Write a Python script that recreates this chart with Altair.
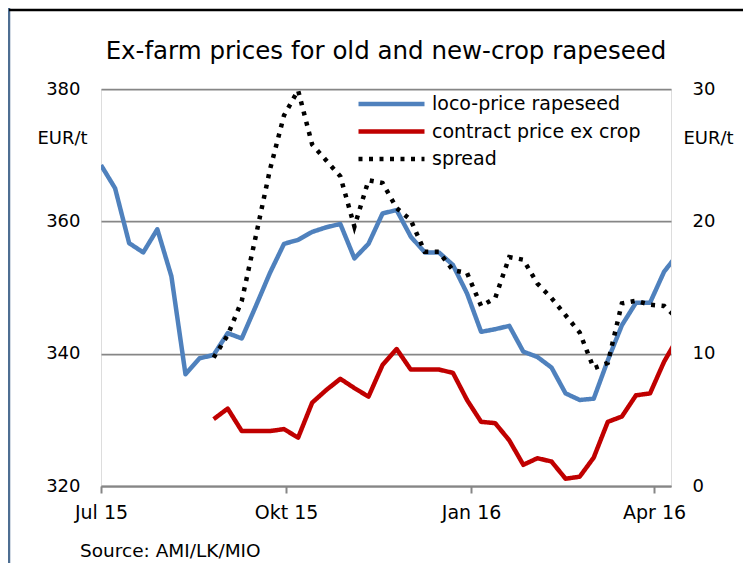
import json
import altair as alt
import pandas as pd

# ---------------- data ----------------
week_start = "2015-07-01"
n_weeks = 42
loco = [368.5, 365.0, 356.7, 355.3, 358.8, 351.7, 336.9, 339.3, 339.8, 343.1,
        342.3, 347.2, 352.2, 356.6, 357.2, 358.4, 359.1, 359.6, 354.4, 356.6,
        361.2, 361.7, 357.7, 355.3, 355.3, 353.4, 349.1, 343.3, 343.7, 344.2,
        340.3, 339.5, 337.9, 334.0, 333.0, 333.2, 339.0, 344.3, 347.7, 347.7,
        352.4, 355.1]
contract = [None] * 8 + [
        330.1, 331.7, 328.3, 328.3, 328.3, 328.6, 327.3, 332.6, 334.5, 336.2,
        334.8, 333.5, 338.3, 340.7, 337.6, 337.6, 337.6, 337.1, 333.0, 329.7,
        329.5, 326.9, 323.2, 324.2, 323.7, 321.1, 321.4, 324.3, 329.7, 330.5,
        333.7, 334.0, 338.8, 342.5]
spread = [None] * 8 + [
        9.7, 11.4, 14.0, 18.9, 23.9, 28.0, 29.9, 25.8, 24.6, 23.4,
        19.6, 23.1, 22.9, 21.0, 20.1, 17.7, 17.7, 16.3, 16.1, 13.6,
        14.2, 17.3, 17.1, 15.3, 14.2, 12.9, 11.6, 8.9, 9.3, 13.8,
        14.0, 13.7, 13.6, 12.6]

series_names = ["loco-price rapeseed", "contract price ex crop", "spread"]
series_colors = ["#4F81BD", "#C00000", "#000000"]
series_dash = [[1, 0], [1, 0], [4, 6.5]]

left_ticks = [320, 340, 360, 380]
right_ticks = [0, 10, 20, 30]
x_tick_keys = ["2015-07", "2015-10", "2016-01", "2016-04"]
x_tick_labels = ["Jul 15", "Okt 15", "Jan 16", "Apr 16"]

title_text = "Ex-farm prices for old and new-crop rapeseed"
unit_text = "EUR/t"
source_text = "Source: AMI/LK/MIO"

# ---------------- tables ----------------
dates = pd.date_range(week_start, periods=n_weeks, freq="7D")
prices = pd.DataFrame({
    "date": list(dates) * 2,
    "series": [series_names[0]] * n_weeks + [series_names[1]] * n_weeks,
    "value": loco + contract,
}).dropna()
spread_df = pd.DataFrame({
    "date": dates,
    "series": series_names[2],
    "spread": spread,
}).dropna()

FONT = "DejaVu Sans"
GRID = "#868686"

x_dates = [alt.DateTime(year=int(k[:4]), month=int(k[5:]), date=1) for k in x_tick_keys]
label_expr = (f"{json.dumps(x_tick_labels)}"
              f"[indexof({json.dumps(x_tick_keys)}, timeFormat(datum.value, '%Y-%m'))]")

x_enc = alt.X(
    "date:T",
    scale=alt.Scale(domain=[alt.DateTime(year=2015, month=7, date=1),
                            alt.DateTime(year=2016, month=4, date=9, hours=10)]),
    axis=alt.Axis(values=x_dates, labelExpr=label_expr, title=None, grid=False,
                  domainColor=GRID, domainWidth=2, tickColor=GRID, tickWidth=2,
                  tickSize=7, labelFontSize=19, labelFont=FONT, labelColor="#000",
                  labelPadding=10, labelFlush=False, labelOverlap=False),
)

legend = alt.Legend(orient="none", legendX=255, legendY=5, title=None,
                    symbolType="stroke", symbolSize=4356, symbolStrokeWidth=4.5,
                    labelFontSize=19, labelFont=FONT, labelColor="#000",
                    labelOffset=5, labelLimit=0, clipHeight=20, rowPadding=7.5)
color_enc = alt.Color("series:N", scale=alt.Scale(domain=series_names, range=series_colors),
                      legend=legend)
dash_enc = alt.StrokeDash("series:N", scale=alt.Scale(domain=series_names, range=series_dash),
                          legend=legend)

price_lines = alt.Chart(prices).mark_line(strokeWidth=4.5, clip=True, strokeJoin="round").encode(
    x=x_enc,
    y=alt.Y("value:Q", scale=alt.Scale(domain=[320, 380], nice=False, zero=False),
            axis=alt.Axis(values=left_ticks, grid=True, gridColor=GRID, gridWidth=1.75,
                          domain=False, ticks=False, labelPadding=21, labelFontSize=18,
                          labelFont=FONT, labelColor="#000",
                          title=unit_text, titleAngle=0, titleX=-39, titleY=54,
                          titleFontSize=18, titleFont=FONT, titleFontWeight="normal",
                          titleAlign="center", titleBaseline="alphabetic", titleColor="#000")),
    color=color_enc,
    strokeDash=dash_enc,
    order="date:T",
)

spread_line = alt.Chart(spread_df).mark_line(strokeWidth=4.5, clip=True).encode(
    x=x_enc,
    y=alt.Y("spread:Q", scale=alt.Scale(domain=[0, 30], nice=False),
            axis=alt.Axis(orient="right", values=right_ticks, grid=False, domain=False,
                          ticks=False, labelPadding=21, labelFontSize=18, labelFont=FONT,
                          labelColor="#000", labelAlign="left",
                          title=unit_text, titleAngle=0, titleX=37, titleY=54,
                          titleFontSize=18, titleFont=FONT, titleFontWeight="normal",
                          titleAlign="center", titleBaseline="alphabetic", titleColor="#000")),
    color=color_enc,
    strokeDash=dash_enc,
    order="date:T",
)

texts = alt.Data(values=[{"t": title_text, "s": source_text}])
title = alt.Chart(texts).mark_text(align="center", baseline="alphabetic", fontSize=24.5,
                                   font=FONT, color="#000").encode(
    x=alt.value(285), y=alt.value(-30), text="t:N")
source = alt.Chart(texts).mark_text(align="left", baseline="alphabetic", fontSize=18.5,
                                    font=FONT, color="#000").encode(
    x=alt.value(-21), y=alt.value(468), text="s:N")

frame_left = alt.Chart(texts).mark_rule(color="#4E6E92", strokeWidth=2.5).encode(
    x=alt.value(-92), y=alt.value(-95), y2=alt.value(490))
frame_top = alt.Chart(texts).mark_rule(color="#000000", strokeWidth=2.5).encode(
    x=alt.value(-92), x2=alt.value(648), y=alt.value(-79))
frame_right = alt.Chart(texts).mark_rule(color="#4E6E92", strokeWidth=1.5).encode(
    x=alt.value(647), y=alt.value(-95), y2=alt.value(-79))

chart = alt.layer(
    frame_left, frame_top, frame_right, price_lines, spread_line, title, source
).resolve_scale(
    y="independent"
).properties(
    width=570, height=397,
    padding={"left": 93, "top": 81, "right": 72, "bottom": 77},
    autosize=alt.AutoSizeParams(type="none"),
).configure_view(stroke=None).configure(font=FONT)

chart.save("out.html", embed_options={"renderer": "svg", "actions": False})
